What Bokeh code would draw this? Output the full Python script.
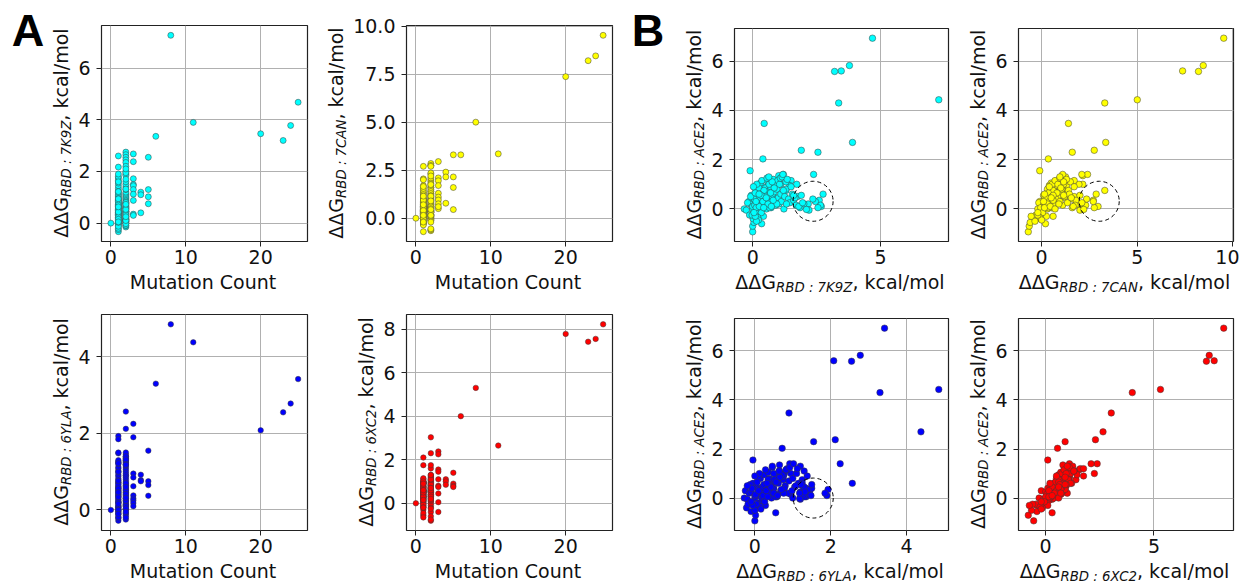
from bokeh.plotting import figure
from bokeh.layouts import row, column
from bokeh.models import Range1d, FixedTicker, NumeralTickFormatter, Div
from bokeh.embed import file_html
from bokeh.resources import INLINE

# ---------------- data (one entry per RBD variant) ----------------
mut_count = [
    0, 8, 11, 20, 23, 24, 25, 6, 5, 5,
    5, 5, 4, 4, 4, 3, 3, 3, 3, 3,
    3, 3, 3, 3, 3, 2, 2, 2, 1, 1,
    1, 1, 2, 2, 2, 2, 2, 2, 1, 2,
    1, 2, 2, 1, 1, 2, 1, 2, 1, 2,
    1, 2, 1, 2, 1, 2, 1, 2, 1, 2,
    1, 2, 1, 2, 1, 2, 1, 2, 1, 2,
    1, 2, 1, 2, 1, 2, 1, 2, 1, 2,
    1, 2, 1, 2, 1, 2, 1, 2, 1, 2,
    1, 2, 1, 2, 1, 2, 1, 2, 1, 2,
    1, 2, 1, 2, 1, 2, 1, 1, 2, 2,
    1, 2, 1, 2, 1, 2, 1, 2, 1, 2,
    1, 2, 1, 2, 1, 2, 1, 2, 1, 2,
    1, 2, 1, 2, 1, 2, 1, 2, 1, 2,
    1, 2, 1, 2, 1, 2, 1, 2, 1, 2,
    1, 2, 1, 2, 1, 2,
]
ddg_7k9z = [
    0, 7.27, 3.9, 3.46, 3.2, 3.78, 4.68, 3.36, 2.55, 1.3,
    1.02, 0.75, 1.2, 1.1, 0.4, 2.68, 2.38, 1.72, 1.5, 1.45,
    1.3, 1.12, 0.88, 0.35, 0.3, 0.45, 1.9, 2.75, 0.4, -0.1,
    2.6, 2.17, 2.65, 2.55, 2.45, 2.35, 2.2, 2.0, 1.75, 1.85,
    0.0, 0.0, 0.05, 0.35, -0.33, -0.15, -0.25, -0.1, -0.2, 0.0,
    0.05, 0.1, 0.12, 0.15, 0.18, 0.2, 0.22, 0.25, 0.28, 0.3,
    0.32, 0.35, 0.38, 0.4, 0.42, 0.45, 0.48, 0.5, 0.52, 0.55,
    0.58, 0.6, 0.62, 0.65, 0.68, 0.7, 0.72, 0.75, 0.78, 0.8,
    0.82, 0.85, 0.88, 0.9, 0.92, 0.95, 0.98, 1.0, 1.02, 1.05,
    1.08, 1.1, 1.12, 1.15, 1.18, 1.2, 1.25, 1.3, 1.35, 1.4,
    1.45, 1.5, 1.55, 1.6, 1.65, 1.7, 1.8, 1.9, 1.95, 2.1,
    0.02, 0.08, -0.05, 0.14, 0.24, 0.06, 0.34, 0.16, 0.44, 0.26,
    0.54, 0.36, 0.64, 0.46, 0.74, 0.56, 0.84, 0.66, 0.94, 0.76,
    -0.12, -0.08, 0.1, 0.2, 0.3, 0.4, 0.5, 0.6, 0.7, 0.8,
    0.03, 0.13, 0.23, 0.33, 0.43, 0.53, 0.63, 0.73, 1.22, 1.32,
    1.6, -0.02, 0.15, 0.1, 0.05, 0.25,
]
ddg_7can = [
    0, 5.0, 3.35, 7.37, 8.2, 8.45, 9.52, 3.3, 1.6, 3.3,
    2.15, 0.45, 2.4, 2.15, 0.78, 2.95, 2.1, 1.95, 1.7, 1.3,
    1.1, 0.95, 0.75, 0.5, 0.6, 1.4, 2.75, 2.85, 0.35, -0.1,
    2.7, 2.05, 2.3, 2.75, 2.7, 2.35, 2.0, 1.9, 1.7, 1.6,
    -0.7, -0.65, -0.6, 0.2, -0.2, -0.1, 0.0, 0.05, -0.15, 0.1,
    0.15, 0.0, 0.25, 0.3, 0.05, 0.4, 0.2, 0.35, 0.1, 0.5,
    0.15, 0.45, 0.3, 0.6, 0.25, 0.55, 0.35, 0.7, 0.4, 0.65,
    0.45, 0.8, 0.5, 0.75, 0.6, 0.9, 0.55, 0.85, 0.7, 1.0,
    0.65, 0.95, 0.8, 1.1, 0.75, 1.05, 0.9, 1.2, 0.85, 1.15,
    1.0, 1.3, 0.95, 1.25, 1.1, 1.4, 1.2, 1.5, 1.3, 1.6,
    1.35, 1.7, 1.45, 1.8, 1.55, 1.75, 1.65, 2.0, 2.1, 2.2,
    -0.25, 0.2, 0.1, -0.05, 0.45, 0.3, 0.05, 0.55, 0.6, 0.15,
    0.3, 0.7, 0.85, 0.2, 0.4, 0.95, 1.0, 0.35, 0.6, 1.15,
    -0.3, 0.15, 0.35, -0.1, 0.25, 0.4, 0.55, 0.3, 0.8, 0.6,
    0.4, 0.1, 0.0, 0.6, 0.15, 0.5, 0.95, 0.45, 0.7, 0.9,
    1.15, -0.2, -0.35, -0.55, -0.2, 0.15,
]
ddg_6yla = [
    0, 4.85, 4.38, 2.08, 2.55, 2.78, 3.42, 3.3, 1.55, 0.75,
    0.65, 0.37, 0.92, 0.78, 0.75, 1.9, 2.25, 0.95, 0.85, 0.62,
    0.38, 0.3, 0.25, 0.18, 0.1, 0.9, 2.12, 2.57, 0.72, -0.05,
    1.93, 1.85, 1.4, 1.35, 1.45, 1.5, 1.2, 1.25, 1.25, 1.3,
    0.0, 0.02, -0.1, 0.55, -0.28, -0.25, -0.2, -0.15, -0.1, 0.0,
    0.05, 0.1, -0.05, 0.15, 0.2, 0.25, 0.08, 0.3, 0.12, 0.35,
    0.18, 0.4, 0.22, 0.45, 0.28, 0.5, 0.32, 0.55, 0.38, 0.6,
    0.42, 0.65, 0.48, 0.7, 0.52, 0.75, 0.58, 0.8, 0.62, 0.85,
    0.68, 0.9, 0.72, 0.95, 0.78, 1.0, 0.82, 1.05, 0.88, 1.1,
    0.92, 1.15, 0.98, 1.2, 1.02, 1.25, 1.08, 1.3, 1.12, 1.35,
    1.2, 1.38, 1.25, 1.4, 1.3, 1.28, 1.48, 1.5, 1.32, 1.18,
    -0.22, 0.02, -0.12, 0.18, 0.1, -0.08, 0.26, 0.12, 0.35, 0.22,
    0.44, 0.28, 0.5, 0.38, 0.6, 0.46, 0.66, 0.54, 0.76, 0.64,
    -0.18, -0.2, 0.06, 0.14, 0.2, 0.3, 0.4, 0.5, 0.56, 0.7,
    0.0, 0.1, 0.16, 0.24, 0.34, 0.42, 0.46, 0.6, 1.0, 1.18,
    1.22, 0.04, 0.0, -0.05, -0.1, 0.32,
]
ddg_6xc2 = [
    0, 5.3, 2.65, 7.78, 7.42, 7.55, 8.22, 4.0, 0.9, 1.4,
    0.8, 0.75, 1.1, 1.0, 0.85, 0.45, 2.38, 2.25, 1.55, 1.45,
    1.1, 0.8, 0.75, 0.05, -0.4, 3.03, 2.3, 1.2, 0.55, 0.1,
    0.9, 1.0, 0.6, 0.5, 0.7, 0.8, 0.3, 0.55, 0.9, 0.4,
    -0.55, -0.8, -0.4, 0.3, -0.3, -0.2, -0.1, 0.1, 0.0, 0.2,
    0.3, -0.1, 0.4, 0.5, 0.15, 0.6, 0.2, 0.45, 0.05, 0.7,
    0.25, 0.55, 0.35, 0.8, 0.1, 0.65, 0.4, 0.9, 0.5, 0.75,
    0.3, 1.0, 0.6, 0.55, 0.7, 1.1, 0.45, 0.85, 0.8, 1.6,
    0.55, 0.95, 0.9, 0.7, 0.65, 1.05, 1.0, 0.85, 0.75, 1.15,
    1.1, 0.95, 0.8, 1.25, 2.1, 1.05, 0.95, 1.3, 1.75, 0.8,
    0.6, 1.75, 1.15, 0.9, 0.75, 0.55, 0.5, 0.95, 0.65, 0.35,
    -0.15, 0.35, 0.25, 0.0, 0.55, 0.1, -0.05, 0.75, 0.6, 0.3,
    0.2, 0.85, 0.95, 0.4, 0.35, 1.1, 0.9, 0.25, 0.5, 1.3,
    -0.45, 0.2, 0.45, -0.25, 0.3, 0.5, 0.7, 0.4, 0.6, 0.7,
    0.5, 0.15, -0.2, 0.65, 0.15, 0.6, 1.0, 0.3, 0.6, 0.7,
    0.9, -0.6, -0.65, -0.75, -0.2, 0.2,
]
ddg_ace2 = [
    0, 4.43, 2.7, 5.6, 5.58, 5.82, 6.93, 4.3, 2.3, 0.75,
    1.35, 0.3, 1.4, 1.0, 0.9, 0.1, 1.4, 1.0, 1.15, 0.95,
    0.8, 0.55, 0.45, 0.05, -0.3, 3.47, 2.38, 0.6, 2.03, 1.55,
    0.35, 0.2, 0.15, 0.05, 0.3, 0.4, -0.05, 0.2, 0.5, 0.05,
    -0.93, -0.7, -0.55, -0.6, 0.0, 0.3, -0.05, 0.2, 0.25, 0.1,
    0.45, -0.2, 0.6, 0.8, -0.1, 0.95, 0.35, 0.5, 0.15, 1.05,
    0.0, 0.7, 0.3, 0.6, -0.3, 0.4, 0.2, 0.85, 0.55, 0.65,
    0.1, 1.1, 0.35, 0.25, 0.75, 0.9, 0.05, 0.5, 0.6, 1.2,
    0.3, 0.7, 0.95, 0.15, 0.4, 0.8, 1.15, 0.45, 0.2, 1.0,
    1.25, 0.6, 0.3, 1.3, 1.4, 0.75, 0.5, 1.1, 1.2, 0.4,
    0.25, 0.9, 0.6, 0.35, 0.45, 0.15, 0.1, 0.55, 0.25, -0.02,
    -0.4, 0.15, 0.55, 0.05, 0.85, 0.4, -0.15, 1.0, 0.75, 0.1,
    0.0, 1.15, 1.0, 0.25, 0.15, 1.25, 0.85, 0.05, 0.2, 1.1,
    -0.25, 0.5, 0.65, -0.35, 0.45, 0.3, 0.5, 0.2, 0.65, 0.35,
    0.9, 0.3, -0.45, 0.55, 0.05, 0.45, 1.3, 0.1, 0.0, 0.2,
    0.55, -0.25, -0.5, -0.3, -0.15, 0.6,
]

# dashed circles marking the outlier groups in panels B (one per structure)
circle_x = [2.36, 3.01, 1.54]
circle_y = [0.31, 0.31, 0.0]

structures = ["7K9Z", "7CAN", "6YLA", "6XC2"]
colors = ["#00ffff", "#ffff00", "#0000ff", "#ff0000"]

a_x_ticks = [0, 10, 20]
a_y_ticks = [[0, 2, 4, 6], [0, 2.5, 5, 7.5, 10], [0, 2, 4], [0, 2, 4, 6, 8]]
b_x_ticks = [[0, 5], [0, 5, 10], [0, 2, 4], [0, 5]]
b_y_ticks = [0, 2, 4, 6]

# ---------------- text helpers ----------------
FONT = "DejaVu Sans"
MAIN = 19
SUB = 13.3
TXT = "#111111"
LH = 24
ASC, DSC = 0.928, 0.236          # DejaVu Sans vertical metrics
BO = (LH - (ASC + DSC) * MAIN) / 2 + ASC * MAIN   # baseline offset inside a line box

CW = {"0": 0.636, "1": 0.636, "2": 0.636, "4": 0.636, "5": 0.636, "6": 0.636,
      "7": 0.636, "8": 0.636, "9": 0.636, "3": 0.636, ".": 0.318}


def tw(s, size):
    return sum(CW.get(ch, 0.6) for ch in s) * size


def ddg_html(sub):
    return ("ΔΔG<span style=\"font-size:%spx;font-style:italic;position:relative;"
            "top:2.5px;line-height:0\">RBD : %s</span>, kcal/mol" % (SUB, sub))


BASE_STYLE = ("position:absolute;height:%dpx;line-height:%dpx;text-align:center;"
              "white-space:nowrap;font-family:'DejaVu Sans';font-size:%dpx;color:%s;"
              % (LH, LH, MAIN, TXT))


def vlabel(inner, bx, y_bottom, length):
    return ("<div style=\"%sleft:%.1fpx;top:%.1fpx;width:%dpx;transform-origin:0 0;"
            "transform:rotate(-90deg);\">%s</div>" % (BASE_STYLE, bx - BO, y_bottom, length, inner))


def hlabel(inner, left, width, baseline):
    return ("<div style=\"%sleft:%.1fpx;top:%.1fpx;width:%dpx;\">%s</div>"
            % (BASE_STYLE, left, baseline - BO, width, inner))


def letter(ch, left, baseline):
    size = 45
    top = baseline - 0.905 * size
    return ("<div style=\"position:absolute;left:%.1fpx;top:%.1fpx;height:%dpx;line-height:%dpx;"
            "font-family:'Liberation Sans';font-weight:bold;font-size:%dpx;color:#000;\">%s</div>"
            % (left, top - (size * 1.117 - 0.0) * 0 , int(size * 1.117), int(size * 1.117), size, ch))


def box_div(w, h, inner):
    return Div(text="<div style=\"position:relative;width:%dpx;height:%dpx;\">%s</div>" % (w, h, inner),
               width=w, height=h, margin=0, styles={"overflow": "visible"})


def pad_range(vals):
    lo, hi = min(vals), max(vals)
    s = hi - lo
    return Range1d(lo - 0.05 * s, hi + 0.05 * s)


def make_fig(w, h, l, r, t, b, xr, yr, xt, yt, yfmt=None):
    p = figure(width=w, height=h, x_range=xr, y_range=yr, output_backend="svg",
               toolbar_location=None, min_border_left=l, min_border_right=r,
               min_border_top=t, min_border_bottom=b)
    p.xaxis.ticker = FixedTicker(ticks=xt)
    p.yaxis.ticker = FixedTicker(ticks=yt)
    p.xgrid.ticker = FixedTicker(ticks=xt)
    p.ygrid.ticker = FixedTicker(ticks=yt)
    if yfmt is not None:
        p.yaxis.formatter = yfmt
    p.grid.grid_line_color = "#b0b0b0"
    p.grid.grid_line_width = 1
    p.axis.axis_line_color = None
    p.axis.minor_tick_line_color = None
    p.axis.major_tick_line_color = "#222222"
    p.axis.major_tick_out = 5
    p.axis.major_tick_in = 0
    p.axis.major_label_text_font = FONT
    p.axis.major_label_text_font_size = f"{MAIN}px"
    p.axis.major_label_text_color = TXT
    p.xaxis.major_label_standoff = 3
    p.yaxis.major_label_standoff = 6
    p.outline_line_color = "#222222"
    p.outline_line_width = 1.2
    p.outline_line_alpha = 1
    p.background_fill_color = "white"
    p.border_fill_color = "white"
    return p


# ---------------- page geometry (pixels) ----------------
col_start = [0, 317, 622, 958]
col_end = [317, 622, 958, 1239]
frame_x = [(99, 307), (404, 612), (732, 948), (1016, 1233)]
row_top = [0, 297]
row_h = [297, 286]
frame_y_a = [(25, 241), (314, 530)]
frame_y_b = [(28, 241), (318, 530)]
TICK_SPACE = 32

ddg_cols = [ddg_7k9z, ddg_7can, ddg_6yla, ddg_6xc2]

rows = [[], []]
for kind in ("A", "B"):
    for i in range(4):
        r = i // 2
        col = (i % 2) + (0 if kind == "A" else 2)
        fl, fr = frame_x[col]
        ft, fb = (frame_y_a if kind == "A" else frame_y_b)[r]
        if kind == "A":
            yt = a_y_ticks[i]
            texts = [f"{v:.1f}" for v in yt] if i == 1 else [f"{v:g}" for v in yt]
        else:
            yt = b_y_ticks
            texts = [f"{v:g}" for v in yt]
        tick_w = max(tw(s, MAIN) for s in texts)
        border_l = int(round(tick_w + 12))
        div_w = fl - border_l - col_start[col]
        fig_w = col_end[col] - (fl - border_l)
        border_r = col_end[col] - fr
        border_t = ft - row_top[r]
        fig_h = fb - row_top[r] + TICK_SPACE
        xdiv_h = row_h[r] - fig_h
        frame_w = fr - fl
        frame_h = fb - ft

        if kind == "A":
            yfmt = NumeralTickFormatter(format="0.0") if i == 1 else None
            p = make_fig(fig_w, fig_h, border_l, border_r, border_t, TICK_SPACE,
                         pad_range(mut_count), pad_range(ddg_cols[i]), a_x_ticks, yt, yfmt)
            p.scatter(mut_count, ddg_cols[i], size=6 if i < 2 else 5.5, fill_color=colors[i],
                      line_color="#3a3a3a", line_width=0.5)
            xtext = "Mutation Count"
            ysub = structures[i]
        else:
            p = make_fig(fig_w, fig_h, border_l, border_r, border_t, TICK_SPACE,
                         pad_range(ddg_cols[i]), pad_range(ddg_ace2), b_x_ticks[i], yt)
            p.scatter(ddg_cols[i], ddg_ace2, size=6.5, fill_color=colors[i],
                      line_color="#3a3a3a", line_width=0.5)
            if i < 3:
                p.scatter(circle_x[i:i + 1], circle_y[i:i + 1], size=40, fill_color=None,
                          line_color="black", line_dash="4 3", line_width=1)
            xtext = ddg_html(structures[i])
            ysub = "ACE2"

        # y label (rotated), drawn in a strip left of the figure
        bx = fl - (tick_w + 19) - col_start[col]
        inner = vlabel(ddg_html(ysub), bx, fb - row_top[r], frame_h)
        if i == 0:
            inner += letter(kind, (11.7 if kind == "A" else 631.7) - col_start[col], 46.7)
        ydiv = box_div(div_w, row_h[r], inner)

        # x label, drawn in a strip under the figure
        baseline = (fb + 48) - (row_top[r] + fig_h)
        xdiv = box_div(fig_w, xdiv_h, hlabel(xtext, border_l, frame_w, baseline))

        rows[r].append((col, row(ydiv, column(p, xdiv, spacing=0), spacing=0)))

row1 = [pan for _, pan in sorted(rows[0], key=lambda t: t[0])]
row2 = [pan for _, pan in sorted(rows[1], key=lambda t: t[0])]
layout = column(row(*row1, spacing=0), row(*row2, spacing=0), spacing=0)

open("out.html", "w").write(file_html(layout, INLINE))
